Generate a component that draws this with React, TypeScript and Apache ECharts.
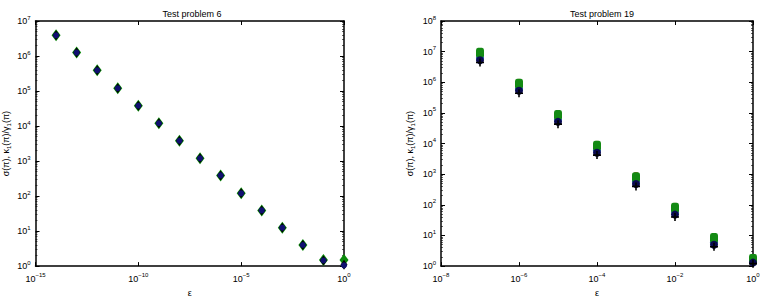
import React, { useEffect, useRef } from "react";
import * as echarts from "echarts";

// ---- data ----
const eps6 = [1e-14, 1e-13, 1e-12, 1e-11, 1e-10, 1e-9, 1e-8, 1e-7, 1e-6, 1e-5, 1e-4, 1e-3, 1e-2, 1e-1, 1e0];
const p6Green = [3.9e6, 1.25e6, 3.9e5, 1.2e5, 3.8e4, 1.2e4, 3.8e3, 1.2e3, 3.9e2, 1.2e2, 39, 12.5, 4.0, 1.5, 1.5];
const p6Black = [3.9e6, 1.25e6, 3.9e5, 1.2e5, 3.8e4, 1.2e4, 3.8e3, 1.2e3, 3.9e2, 1.2e2, 39, 12.5, 4.0, 1.45, 1.1];
const p6Navy = [3.9e6, 1.25e6, 3.9e5, 1.2e5, 3.8e4, 1.2e4, 3.8e3, 1.2e3, 3.9e2, 1.2e2, 39, 12.5, 4.0, 1.45, 1.05];

const eps19 = [1e-7, 1e-6, 1e-5, 1e-4, 1e-3, 1e-2, 1e-1, 1e0];
const p19Red = [1.0e7, 1.0e6, 9.5e4, 9.5e3, 9.0e2, 9.0e1, 9.0, 1.8];
const p19Green = [9.2e6, 9.0e5, 8.5e4, 8.5e3, 8.0e2, 8.0e1, 8.3, 1.7];
const p19Blue = [6.3e6, 6.2e5, 6.0e4, 6.0e3, 5.8e2, 5.8e1, 6.0, 1.5];
const p19Navy = [5.2e6, 5.3e5, 5.1e4, 5.0e3, 4.8e2, 4.8e1, 5.0, 1.3];
const p19Black = [4.4e6, 4.4e5, 4.3e4, 4.2e3, 4.0e2, 4.0e1, 4.3, 1.2];

const titles = ["Test problem 6", "Test problem 19"];

const FONT = "Liberation Sans, Arial, Helvetica, sans-serif";
const PLUS = "path://M4,0h2v4h4v2h-4v4h-2v-4h-4v-2h4z";

const pairs = (xs: number[], ys: number[]) => xs.map((x, i) => [x, ys[i]]);

const powLabel = (v: number) => {
  const e = Math.round(Math.log10(v));
  const s = e < 0 ? "\u2212" + Math.abs(e) : String(e);
  return `{b|10}{e|${s}}`;
};

const richLab = {
  b: { fontSize: 9, fontFamily: FONT, color: "#000" },
  e: { fontSize: 6, fontFamily: FONT, color: "#000", padding: [0, 0, 7, 0] },
};

export default function App() {
  const ref = useRef<HTMLDivElement>(null);
  useEffect(() => {
    if (!ref.current) return;
    const chart = echarts.init(ref.current, undefined, { renderer: "svg" });
    const grids = [
      { left: 31, right: 438, top: 21, bottom: 34 },
      { left: 441, right: 29, top: 21, bottom: 34 },
    ];
    const xSpec = [
      { min: 1e-15, max: 1, logBase: 100000 },
      { min: 1e-8, max: 1, logBase: 100 },
    ];
    const ySpec = [
      { min: 1, max: 1e7 },
      { min: 1, max: 1e8 },
    ];
    const axisLine = { show: true, lineStyle: { color: "#000", width: 1.5 } };
    const tick = { show: true, inside: true, length: 4, lineStyle: { color: "#000", width: 1 } };
    const xAxis: any[] = [];
    const yAxis: any[] = [];
    [0, 1].forEach((g) => {
      xAxis.push({
        type: "log", gridIndex: g, position: "bottom", ...xSpec[g],
        axisLine, axisTick: tick, splitLine: { show: false },
        axisLabel: { formatter: powLabel, rich: richLab, margin: 6 },
        name: "\u03b5", nameLocation: "middle", nameGap: 20,
        nameTextStyle: { fontSize: 9, fontFamily: FONT, color: "#000" },
      });
      xAxis.push({
        type: "log", gridIndex: g, position: "top", ...xSpec[g],
        axisLine, axisTick: tick, splitLine: { show: false },
        axisLabel: { show: false },
      });
      yAxis.push({
        type: "log", gridIndex: g, position: "left", ...ySpec[g], logBase: 10,
        axisLine, axisTick: tick, splitLine: { show: false },
        minorTick: { show: true, splitNumber: 9, length: 2, lineStyle: { color: "#000", width: 0.6 } },
        axisLabel: { formatter: powLabel, rich: richLab, margin: 5 },
        name: "{n|\u03c3(\u03c0), \u03ba}{s|1}{n|(\u03c0)/\u03b3}{s|1}{n|(\u03c0)}",
        nameLocation: "middle", nameGap: g === 0 ? 24 : 25, nameRotate: 90,
        nameTextStyle: {
          fontSize: 9, fontFamily: FONT, color: "#000",
          rich: {
            n: { fontSize: 9, fontFamily: FONT, color: "#000", lineHeight: 12, verticalAlign: "middle" },
            s: { fontSize: 6, fontFamily: FONT, color: "#000", lineHeight: 12, verticalAlign: "bottom" },
          },
        },
      });
      yAxis.push({
        type: "log", gridIndex: g, position: "right", ...ySpec[g], logBase: 10,
        axisLine, axisTick: tick, splitLine: { show: false },
        minorTick: { show: true, splitNumber: 9, length: 2, lineStyle: { color: "#000", width: 0.6 } },
        axisLabel: { show: false },
      });
    });
    const sc = (g: number, data: number[][], symbol: string, size: any, color: string, z: number) => ({
      type: "scatter", xAxisIndex: g * 2, yAxisIndex: g * 2, data, symbol, symbolSize: size,
      itemStyle: { color, opacity: 1 }, z, silent: true,
    });
    const series = [
      sc(0, pairs(eps6, p6Green), "diamond", [9, 12], "#0a8a0a", 2),
      sc(0, pairs(eps6, p6Black), "diamond", [7, 10], "#000000", 3),
      sc(0, pairs(eps6, p6Navy), "circle", 6, "#101070", 4),
      sc(1, pairs(eps19, p19Red), "circle", 7, "#c83214", 2),
      sc(1, pairs(eps19, p19Green), "roundRect", [8, 10], "#138a13", 3),
      sc(1, pairs(eps19, p19Blue), "circle", 8, "#2050c0", 2),
      sc(1, pairs(eps19, p19Navy), "circle", 8, "#0a0a50", 4),
      sc(1, pairs(eps19, p19Black), PLUS, 8, "#000000", 5),
    ];
    chart.setOption({
      animation: false,
      backgroundColor: "#fff",
      title: titles.map((t, i) => ({
        text: t, left: i === 0 ? 187 : 597, top: 4, textAlign: "center",
        textStyle: { fontSize: 9, fontWeight: "normal", fontFamily: FONT, color: "#000" },
      })),
      grid: grids,
      xAxis, yAxis, series,
    });
    return () => chart.dispose();
  }, []);
  return <div ref={ref} style={{ position: "fixed", left: 0, top: 0, width: 782, height: 302 }} />;
}
